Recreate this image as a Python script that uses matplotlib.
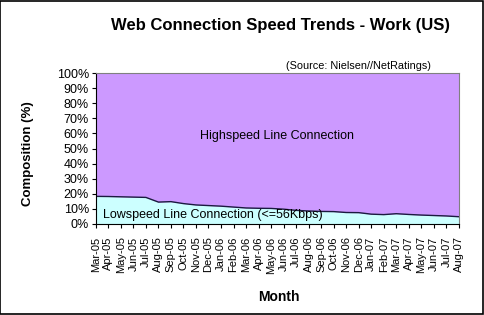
import matplotlib
matplotlib.use('Agg')
import matplotlib.pyplot as plt
import numpy as np

plt.rcParams['font.family'] = ['Liberation Sans', 'DejaVu Sans']

# Μήνες και ποσοστά (εκτίμηση από το διάγραμμα)
months = ['Mar-05', 'Apr-05', 'May-05', 'Jun-05', 'Jul-05', 'Aug-05', 'Sep-05', 'Oct-05',
          'Nov-05', 'Dec-05', 'Jan-06', 'Feb-06', 'Mar-06', 'Apr-06', 'May-06', 'Jun-06',
          'Jul-06', 'Aug-06', 'Sep-06', 'Oct-06', 'Nov-06', 'Dec-06', 'Jan-07', 'Feb-07',
          'Mar-07', 'Apr-07', 'May-07', 'Jun-07', 'Jul-07', 'Aug-07']
lowspeed = [18.3, 18.2, 18.0, 17.8, 17.6, 14.5, 14.8, 13.5, 12.6, 12.2, 11.8, 11.2,
            10.6, 10.4, 10.3, 9.8, 9.0, 8.6, 8.3, 8.2, 7.6, 7.5, 6.5, 6.2,
            6.8, 6.3, 5.9, 5.6, 5.3, 4.8]
highspeed = [100 - v for v in lowspeed]

x = np.arange(len(months))
low = np.array(lowspeed)
top = low + np.array(highspeed)

fig = plt.figure(figsize=(4.84, 3.15), dpi=100)
ax = fig.add_axes([0.198, 0.289, 0.75, 0.479])

ax.fill_between(x, 0, low, color='#CCFFFF', lw=0)
ax.fill_between(x, low, top, color='#CC99FF', lw=0)
ax.plot(x, low, color='#1a1a40', lw=1)

ax.set_xlim(0, len(months) - 1)
ax.set_ylim(0, 100)
ax.set_yticks(np.arange(0, 101, 10))
ax.set_yticklabels([f'{v}%' for v in range(0, 101, 10)], fontsize=9)
ax.set_xticks(x)
ax.set_xticklabels(months, rotation=90, fontsize=8)
ax.tick_params(direction='out', length=3, width=0.8, pad=2)
ax.tick_params(axis='x', pad=6)

for s in ['top', 'right']:
    ax.spines[s].set_color('#808080')
for s in ['left', 'bottom']:
    ax.spines[s].set_color('black')

ax.text(0.5, 0.58, 'Highspeed Line Connection', transform=ax.transAxes,
        ha='center', va='center', fontsize=9)
ax.text(0.02, 0.06, 'Lowspeed Line Connection (<=56Kbps)', transform=ax.transAxes,
        ha='left', va='center', fontsize=9)

fig.text(0.58, 0.918, 'Web Connection Speed Trends - Work (US)', ha='center', va='center',
         fontsize=12, fontweight='bold')
fig.text(0.74, 0.79, '(Source: Nielsen//NetRatings)', ha='center', va='center', fontsize=7.8)
fig.text(0.576, 0.057, 'Month', ha='center', va='center', fontsize=10, fontweight='bold')
fig.text(0.058, 0.511, 'Composition (%)', ha='center', va='center', rotation=90,
         fontsize=9.5, fontweight='bold')

# Πλαίσιο γύρω από το σχήμα
fig.patches.append(plt.Rectangle((0.001, 0.002), 0.997, 0.995, transform=fig.transFigure,
                                 fill=False, edgecolor='black', lw=1.2))

fig.savefig('out.png', dpi=100)
